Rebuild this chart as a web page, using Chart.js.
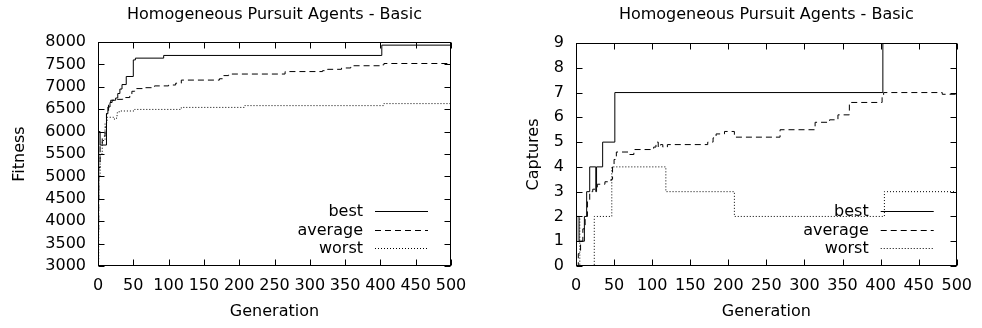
<!DOCTYPE html>
<html>
<head>
<meta charset="utf-8">
<script src="https://cdn.jsdelivr.net/npm/chart.js@4.4.1/dist/chart.umd.min.js"></script>
<style>
  body { margin: 0; background: #fff; }
  .box { position: absolute; top: 0; width: 491px; height: 328px; }
</style>
</head>
<body>
<div class="box" style="left:0"><canvas id="graficoFitness" width="491" height="328"></canvas></div>
<div class="box" style="left:491px"><canvas id="graficoCaptures" width="491" height="328"></canvas></div>
<script>
const titulo = 'Homogeneous Pursuit Agents - Basic';
const series = ['best', 'average', 'worst'];
const xTicks = [0, 50, 100, 150, 200, 250, 300, 350, 400, 450, 500];
const fitnessTicks = [3000, 3500, 4000, 4500, 5000, 5500, 6000, 6500, 7000, 7500, 8000];
const capturesTicks = [0, 1, 2, 3, 4, 5, 6, 7, 8, 9];

// fitness: generation where a value starts, and the value
const fitBestGen = [0, 1, 3, 12, 14, 17, 20, 25, 28, 31, 34, 40, 50, 53, 93, 402, 500];
const fitBestVal = [4500, 6000, 5700, 6400, 6550, 6650, 6700, 6750, 6850, 6950, 7050, 7230, 7600, 7640, 7700, 7930, 7930];
const fitAvgGen = [0, 1, 3, 6, 10, 12, 15, 18, 25, 35, 45, 48, 52, 65, 80, 100, 110, 118, 172, 178, 185, 265, 318, 325, 345, 358, 400, 405, 500];
const fitAvgVal = [3800, 5200, 5700, 5900, 6100, 6400, 6600, 6700, 6720, 6760, 6800, 6900, 6960, 6980, 7020, 7040, 7080, 7150, 7180, 7250, 7285, 7340, 7360, 7390, 7420, 7470, 7490, 7520, 7520];
const fitWorstGen = [0, 1, 3, 6, 10, 13, 22, 25, 27, 30, 52, 118, 208, 405, 500];
const fitWorstVal = [3100, 5000, 5500, 5800, 6200, 6320, 6280, 6300, 6420, 6460, 6495, 6540, 6580, 6625, 6625];

// captures
const capBestGen = [0, 1, 4, 11, 14, 18, 26, 27, 35, 51, 403, 500];
const capBestVal = [1, 2, 1, 2, 3, 4, 3, 4, 5, 7, 9, 9];
const capAvgGen = [0, 3, 6, 9, 12, 15, 18, 22, 28, 38, 46, 48, 50, 53, 70, 76, 102, 105, 108, 111, 114, 120, 173, 180, 184, 195, 208, 268, 314, 333, 344, 359, 402, 404, 481, 500];
const capAvgVal = [0, 0.5, 1, 1.5, 2, 2.6, 3, 3.1, 3.3, 3.4, 3.5, 4.0, 4.3, 4.6, 4.5, 4.7, 4.8, 5.0, 4.8, 4.9, 4.8, 4.9, 5.0, 5.17, 5.33, 5.43, 5.2, 5.5, 5.8, 5.9, 6.1, 6.6, 6.85, 7.0, 6.93, 6.93];
const capWorstGen = [0, 5, 24, 47, 118, 208, 405, 500];
const capWorstVal = [2, 0, 2, 4, 3, 2, 3, 3];

Chart.defaults.font.family = "'DejaVu Sans', sans-serif";
Chart.defaults.font.size = 16;
Chart.defaults.color = '#000';

const estilos = [[], [6, 4], [1, 2]];

function puntos(gens, vals) {
    return gens.map((g, i) => ({ x: g, y: vals[i] }));
}

const marcoGnuplot = {
    id: 'marcoGnuplot',
    afterDatasetsDraw(chart) {
        const { ctx, chartArea: a, scales } = chart;
        const L = Math.round(a.left) + 0.5, R = Math.round(a.right) - 0.5;
        const T = Math.round(a.top) + 0.5, B = Math.round(a.bottom) - 0.5;
        ctx.save();
        ctx.strokeStyle = '#000';
        ctx.lineWidth = 1;
        ctx.setLineDash([]);
        ctx.beginPath();
        scales.x.ticks.forEach(t => {
            const px = Math.round(scales.x.getPixelForValue(t.value)) + 0.5;
            ctx.moveTo(px, B); ctx.lineTo(px, B - 6);
            ctx.moveTo(px, T); ctx.lineTo(px, T + 6);
        });
        scales.y.ticks.forEach(t => {
            const py = Math.round(scales.y.getPixelForValue(t.value)) + 0.5;
            ctx.moveTo(L, py); ctx.lineTo(L + 6, py);
            ctx.moveTo(R, py); ctx.lineTo(R - 6, py);
        });
        ctx.stroke();
        ctx.strokeRect(L, T, R - L, B - T);

        // titulo centrado sobre el area
        ctx.fillStyle = '#000';
        ctx.font = "16px 'DejaVu Sans'";
        ctx.textAlign = 'center';
        ctx.textBaseline = 'middle';
        ctx.fillText(titulo, (a.left + a.right) / 2, 15);

        // leyenda dentro, abajo a la derecha
        ctx.textAlign = 'right';
        chart.data.datasets.forEach((ds, i) => {
            const y = Math.round(a.bottom - 55 + i * 18.5) + 0.5;
            ctx.fillText(ds.label, a.right - 88, y);
            ctx.setLineDash(ds.borderDash || []);
            ctx.beginPath();
            ctx.moveTo(a.right - 76, y);
            ctx.lineTo(a.right - 23, y);
            ctx.stroke();
        });
        ctx.restore();
    }
};

function grafico(id, datos, yMin, yMax, yPaso, yTitulo, ancho, derecha, arriba, yPad) {
    const ctx = document.getElementById(id).getContext('2d');
    return new Chart(ctx, {
        type: 'line',
        data: {
            datasets: datos.map((d, i) => ({
                label: series[i],
                data: d,
                borderColor: '#000',
                borderWidth: 1,
                borderDash: estilos[i],
                pointRadius: 0,
                stepped: 'before',
                fill: false
            }))
        },
        options: {
            responsive: false,
            animation: false,
            layout: { padding: { top: arriba, right: derecha, bottom: 0, left: 0 } },
            plugins: { legend: { display: false }, tooltip: { enabled: false } },
            scales: {
                x: {
                    type: 'linear',
                    min: xTicks[0],
                    max: xTicks[xTicks.length - 1],
                    afterBuildTicks: s => { s.ticks = xTicks.map(v => ({ value: v })); },
                    afterFit: s => { s.height = 62; },
                    grid: { display: false, drawTicks: false },
                    border: { display: false },
                    ticks: { padding: 10, maxRotation: 0, autoSkip: false, color: '#000', callback: v => String(v) },
                    title: { display: true, text: 'Generation', padding: { top: 0, bottom: 7 }, color: '#000' }
                },
                y: {
                    min: yMin,
                    max: yMax,
                    afterBuildTicks: s => { s.ticks = yPaso.map(v => ({ value: v })); },
                    afterFit: s => { s.width = ancho; },
                    grid: { display: false, drawTicks: false },
                    border: { display: false },
                    ticks: { padding: 12, autoSkip: false, color: '#000', callback: v => String(v) },
                    title: { display: true, text: yTitulo, padding: { top: yPad, bottom: 0 }, color: '#000' }
                }
            }
        },
        plugins: [marcoGnuplot]
    });
}

grafico('graficoFitness',
    [puntos(fitBestGen, fitBestVal), puntos(fitAvgGen, fitAvgVal), puntos(fitWorstGen, fitWorstVal)],
    3000, 8000, fitnessTicks, 'Fitness', 98, 40, 42, 10);

grafico('graficoCaptures',
    [puntos(capBestGen, capBestVal), puntos(capAvgGen, capAvgVal), puntos(capWorstGen, capWorstVal)],
    0, 9, capturesTicks, 'Captures', 85, 19, 43, 33);
</script>
</body>
</html>
